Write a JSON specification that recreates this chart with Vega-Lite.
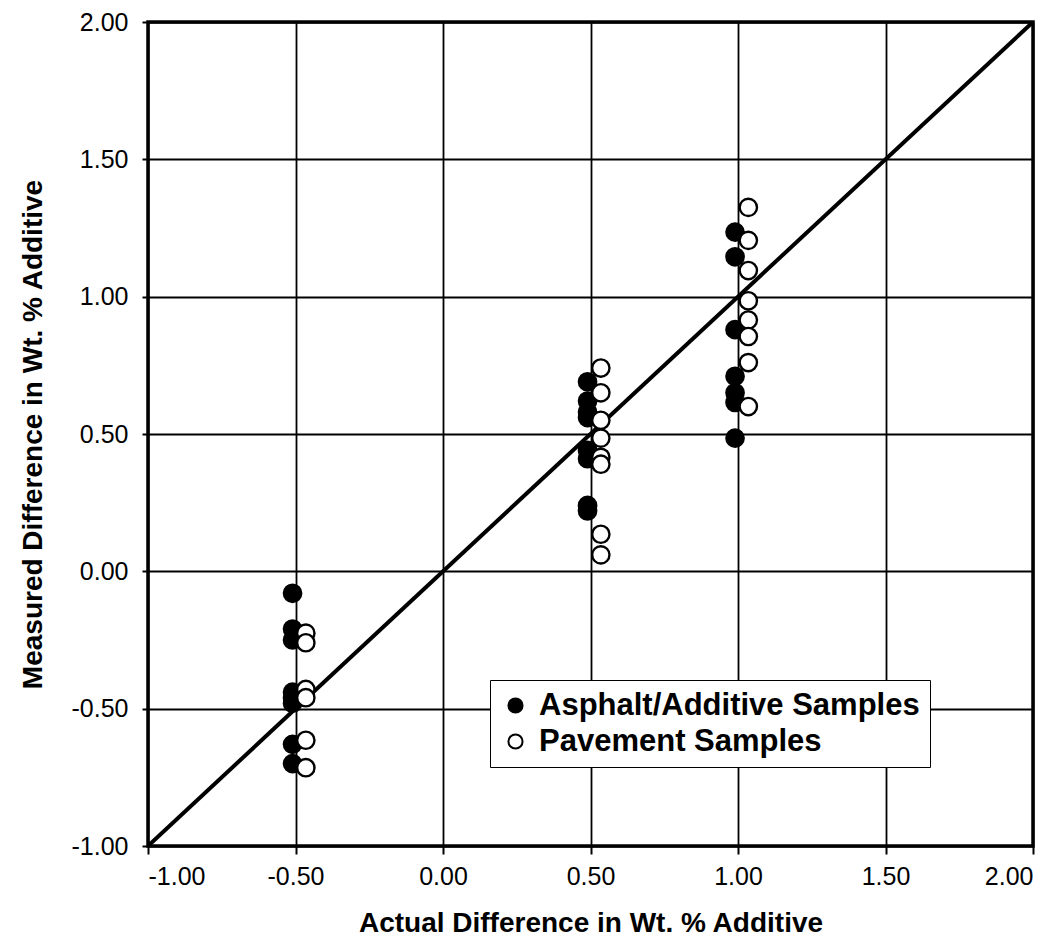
{
  "$schema": "https://vega.github.io/schema/vega-lite/v6.json",
  "width": 885,
  "height": 824,
  "autosize": {"type": "none"},
  "padding": {"left": 148, "top": 22, "right": 30, "bottom": 96},
  "background": "white",
  "config": {
    "font": "Liberation Sans",
    "view": {"stroke": "black", "strokeWidth": 3.5},
    "axis": {
      "gridColor": "black", "gridWidth": 1.8, "gridOpacity": 1,
      "domain": false, "tickColor": "black", "tickWidth": 2,
      "labelFont": "Liberation Sans", "labelFontSize": 25, "labelColor": "black",
      "titleFont": "Liberation Sans", "titleFontSize": 28, "titleFontWeight": "bold", "titleColor": "black"
    },
    "legend": {
      "symbolStrokeColor": "black", "symbolStrokeWidth": 2
    }
  },
  "datasets": {
    "pts": [
      {"x": -0.51, "y": -0.08, "type": "Asphalt/Additive Samples"},
      {"x": -0.51, "y": -0.21, "type": "Asphalt/Additive Samples"},
      {"x": -0.51, "y": -0.25, "type": "Asphalt/Additive Samples"},
      {"x": -0.51, "y": -0.44, "type": "Asphalt/Additive Samples"},
      {"x": -0.51, "y": -0.46, "type": "Asphalt/Additive Samples"},
      {"x": -0.51, "y": -0.48, "type": "Asphalt/Additive Samples"},
      {"x": -0.51, "y": -0.63, "type": "Asphalt/Additive Samples"},
      {"x": -0.51, "y": -0.70, "type": "Asphalt/Additive Samples"},
      {"x": 0.49, "y": 0.69, "type": "Asphalt/Additive Samples"},
      {"x": 0.49, "y": 0.62, "type": "Asphalt/Additive Samples"},
      {"x": 0.49, "y": 0.58, "type": "Asphalt/Additive Samples"},
      {"x": 0.49, "y": 0.56, "type": "Asphalt/Additive Samples"},
      {"x": 0.49, "y": 0.44, "type": "Asphalt/Additive Samples"},
      {"x": 0.49, "y": 0.41, "type": "Asphalt/Additive Samples"},
      {"x": 0.49, "y": 0.24, "type": "Asphalt/Additive Samples"},
      {"x": 0.49, "y": 0.22, "type": "Asphalt/Additive Samples"},
      {"x": 0.99, "y": 1.235, "type": "Asphalt/Additive Samples"},
      {"x": 0.99, "y": 1.145, "type": "Asphalt/Additive Samples"},
      {"x": 0.99, "y": 0.88, "type": "Asphalt/Additive Samples"},
      {"x": 0.99, "y": 0.71, "type": "Asphalt/Additive Samples"},
      {"x": 0.99, "y": 0.65, "type": "Asphalt/Additive Samples"},
      {"x": 0.99, "y": 0.615, "type": "Asphalt/Additive Samples"},
      {"x": 0.99, "y": 0.485, "type": "Asphalt/Additive Samples"},
      {"x": -0.465, "y": -0.225, "type": "Pavement Samples"},
      {"x": -0.465, "y": -0.26, "type": "Pavement Samples"},
      {"x": -0.465, "y": -0.43, "type": "Pavement Samples"},
      {"x": -0.465, "y": -0.46, "type": "Pavement Samples"},
      {"x": -0.465, "y": -0.615, "type": "Pavement Samples"},
      {"x": -0.465, "y": -0.715, "type": "Pavement Samples"},
      {"x": 0.535, "y": 0.74, "type": "Pavement Samples"},
      {"x": 0.535, "y": 0.65, "type": "Pavement Samples"},
      {"x": 0.535, "y": 0.55, "type": "Pavement Samples"},
      {"x": 0.535, "y": 0.485, "type": "Pavement Samples"},
      {"x": 0.535, "y": 0.415, "type": "Pavement Samples"},
      {"x": 0.535, "y": 0.39, "type": "Pavement Samples"},
      {"x": 0.535, "y": 0.135, "type": "Pavement Samples"},
      {"x": 0.535, "y": 0.06, "type": "Pavement Samples"},
      {"x": 1.035, "y": 1.325, "type": "Pavement Samples"},
      {"x": 1.035, "y": 1.205, "type": "Pavement Samples"},
      {"x": 1.035, "y": 1.095, "type": "Pavement Samples"},
      {"x": 1.035, "y": 0.985, "type": "Pavement Samples"},
      {"x": 1.035, "y": 0.915, "type": "Pavement Samples"},
      {"x": 1.035, "y": 0.855, "type": "Pavement Samples"},
      {"x": 1.035, "y": 0.76, "type": "Pavement Samples"},
      {"x": 1.035, "y": 0.60, "type": "Pavement Samples"}
    ],
    "diag": [
      {"x": -1, "y": -1},
      {"x": 2, "y": 2}
    ]
  },
  "layer": [
    {
      "data": {"name": "diag"},
      "mark": {"type": "line", "color": "black", "strokeWidth": 4, "clip": true},
      "encoding": {
        "x": {
          "field": "x", "type": "quantitative",
          "scale": {"domain": [-1, 2], "nice": false, "zero": false},
          "axis": {
            "values": [-1, -0.5, 0, 0.5, 1, 1.5, 2], "format": ".2f",
            "labelExpr": "replace(datum.label, '\u2212', '-')",
            "tickSize": 8, "labelPadding": 10, "titlePadding": 20,
            "title": "Actual Difference in Wt. % Additive"
          }
        },
        "y": {
          "field": "y", "type": "quantitative",
          "scale": {"domain": [-1, 2], "nice": false, "zero": false},
          "axis": {
            "values": [-1, -0.5, 0, 0.5, 1, 1.5, 2], "format": ".2f",
            "labelExpr": "replace(datum.label, '\u2212', '-')",
            "tickSize": 6, "labelPadding": 14, "titlePadding": 24,
            "title": "Measured Difference in Wt. % Additive"
          }
        }
      }
    },
    {
      "data": {"name": "pts"},
      "mark": {"type": "point", "shape": "circle", "filled": true, "stroke": "black", "strokeWidth": 2.4, "size": 300, "opacity": 1},
      "encoding": {
        "x": {"field": "x", "type": "quantitative"},
        "y": {"field": "y", "type": "quantitative"},
        "fill": {
          "field": "type", "type": "nominal",
          "scale": {"domain": ["Asphalt/Additive Samples", "Pavement Samples"], "range": ["black", "white"]},
          "legend": {
            "title": null, "orient": "none", "legendX": 342, "legendY": 658,
            "labelFontSize": 31, "labelFontWeight": "bold", "labelColor": "black",
            "labelFont": "Liberation Sans", "labelLimit": 0,
            "symbolSize": 200, "symbolType": "circle", "symbolStrokeColor": "black", "symbolStrokeWidth": 2,
            "rowPadding": 4, "padding": 10, "labelOffset": 8,
            "strokeColor": "black", "fillColor": "white",
            "symbolOpacity": 1
          }
        }
      }
    }
  ]
}
